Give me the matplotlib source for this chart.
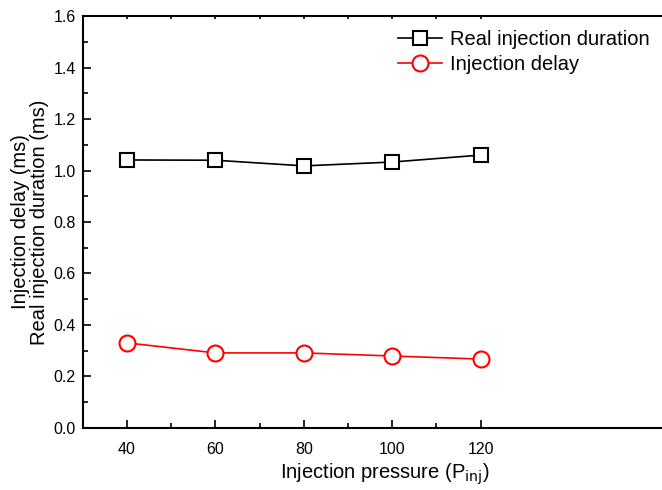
import matplotlib
matplotlib.use("Agg")
import matplotlib.pyplot as plt
from matplotlib.ticker import MultipleLocator, FixedLocator

plt.rcParams['font.family'] = ['Liberation Sans', 'DejaVu Sans']

pressure = [40, 60, 80, 100, 120]
real_duration = [1.041, 1.040, 1.018, 1.033, 1.060]
injection_delay = [0.330, 0.291, 0.291, 0.279, 0.267]

fig = plt.figure(figsize=(6.62, 4.9), dpi=100)
ax = fig.add_axes([0.125, 0.127, 0.875, 0.84])

ax.plot(pressure, real_duration, color='black', lw=1.2, marker='s', ms=10,
        mfc='white', mec='black', mew=1.5, label='Real injection duration')
ax.plot(pressure, injection_delay, color='red', lw=1.2, marker='o', ms=11.5,
        mfc='white', mec='red', mew=1.5, label='Injection delay')

ax.set_xlim(30, 161)
ax.set_ylim(0, 1.6)
ax.set_xticks([40, 60, 80, 100, 120])
ax.xaxis.set_minor_locator(FixedLocator([50, 70, 90, 110]))
ax.yaxis.set_major_locator(MultipleLocator(0.2))
ax.yaxis.set_minor_locator(MultipleLocator(0.1))
ax.yaxis.set_major_formatter(plt.FormatStrFormatter('%.1f'))

ax.tick_params(which='both', direction='in', labelsize=11.5, width=1.2, top=True, right=False)
ax.tick_params(which='major', length=6)
ax.tick_params(which='minor', length=3.5)
ax.tick_params(axis='x', which='both', pad=10)
ax.tick_params(axis='y', which='both', pad=5)
for s in ['left', 'bottom', 'top']:
    ax.spines[s].set_linewidth(1.5)
ax.spines['right'].set_visible(False)
# tiny ticks on the top spine
for t in ax.xaxis.get_major_ticks() + ax.xaxis.get_minor_ticks():
    t.tick2line.set_markersize(2)

ax.set_xlabel('Injection pressure (P$_{\\mathrm{inj}}$)', fontsize=14.5, labelpad=3)
ax.xaxis.set_label_coords(0.522, -0.082)
ax.set_ylabel('Injection delay (ms)\nReal injection duration (ms)', fontsize=14.5,
              linespacing=1.05, labelpad=3)

ax.legend(loc='upper right', bbox_to_anchor=(1.0, 0.995), frameon=False,
          fontsize=14.5, handlelength=2.2, handletextpad=0.4, labelspacing=0.3,
          borderaxespad=0.2)

fig.savefig('out.png', dpi=100)
